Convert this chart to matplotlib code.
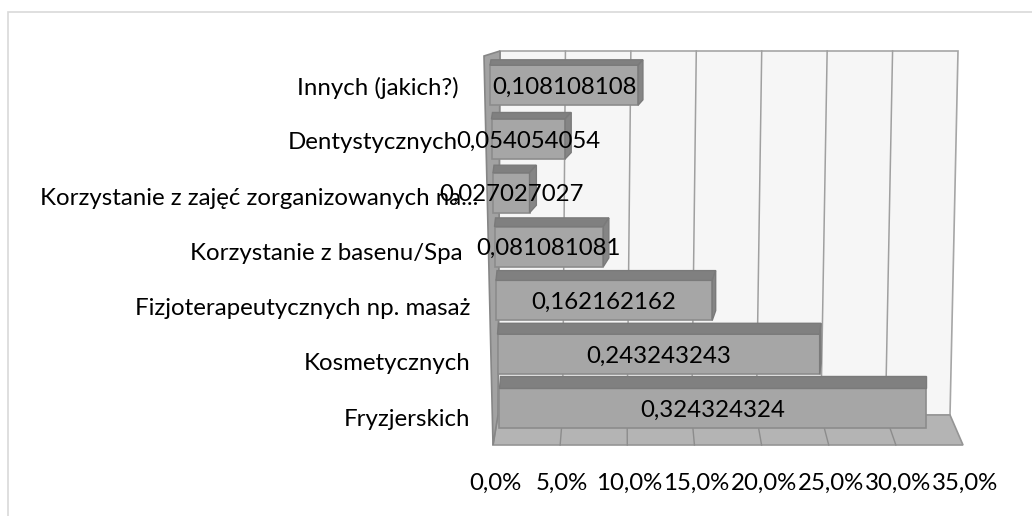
import matplotlib

matplotlib.use("Agg")

import matplotlib.pyplot as plt
from matplotlib.patches import Polygon, Rectangle

# data (bottom row first)
categories = [
    "Fryzjerskich",
    "Kosmetycznych",
    "Fizjoterapeutycznych np. masaż",
    "Korzystanie z basenu/Spa",
    "Korzystanie z zajęć zorganizowanych na...",
    "Dentystycznych",
    "Innych (jakich?)",
]
values = [0.324324324, 0.243243243, 0.162162162, 0.081081081,
          0.027027027, 0.054054054, 0.108108108]
value_labels = ["0,324324324", "0,243243243", "0,162162162", "0,081081081",
                "0,027027027", "0,054054054", "0,108108108"]
ticks = [0.0, 0.05, 0.10, 0.15, 0.20, 0.25, 0.30, 0.35]
tick_labels = ["0,0%", "5,0%", "10,0%", "15,0%", "20,0%", "25,0%", "30,0%", "35,0%"]

plt.rcParams["font.family"] = ["Lato", "DejaVu Sans"]
FS = 17.3
TXT = "#000000"

# pixel -> data unit sizes (x: value, y: category row)
PX = 1 / 1308.6
PY = 1 / 53.8

fig = plt.figure(figsize=(10.32, 5.16), dpi=100)
ax = fig.add_axes([0, 0, 1, 1])
ax.set_xlim(-500 * PX, 532 * PX)
ax.set_ylim(-108 * PY, 408 * PY)
ax.axis("off")

# chart area border
fig.patches.append(Rectangle((8 / 1032, -0.1), 1.2, 1.1 - 12 / 516, transform=fig.transFigure,
                             fill=False, edgecolor="#d9d9d9", linewidth=1.2))

xmax = ticks[-1]
y_top = 357 * PY      # top of back wall
y_back = -7 * PY      # floor / back wall join
y_front = -37 * PY    # front edge of floor


def back_x(t, y):
    # back wall is slightly narrower at the bottom
    f = (y_top - y) / (y_top - y_back)
    return t * (1 - f * 6 * PX / xmax) - f * 2 * PX


def front_x(t):
    return -7 * PX + t * 470 * PX / xmax


# back wall
ax.add_patch(Polygon([(back_x(0, y_top), y_top), (back_x(xmax, y_top), y_top),
                      (back_x(xmax, y_back), y_back), (back_x(0, y_back), y_back)],
                     closed=True, facecolor="#f6f6f6", edgecolor="#a6a6a6", linewidth=1.2, zorder=1))
for t in ticks[1:-1]:
    ax.plot([back_x(t, y_top), back_x(t, y_back)], [y_top, y_back], color="#a0a0a0", lw=1.1, zorder=2)

# floor
ax.add_patch(Polygon([(back_x(0, y_back), y_back), (back_x(xmax, y_back), y_back),
                      (front_x(xmax), y_front), (front_x(0), y_front)],
                     closed=True, facecolor="#b4b4b4", edgecolor="#959595", linewidth=1.2, zorder=2))
for t in ticks[1:-1]:
    ax.plot([back_x(t, y_back), front_x(t)], [y_back, y_front], color="#8c8c8c", lw=1, zorder=2)

# left wall
ax.add_patch(Polygon([(-16 * PX, y_top - 5 * PY), (back_x(0, y_top), y_top),
                      (back_x(0, y_back), y_back), (front_x(0), y_front)],
                     closed=True, facecolor="#a2a2a2", edgecolor="#868686", linewidth=1.2, zorder=2))

# bars, drawn top row first so lower rows sit in front
half = 20 * PY
for i in range(len(values) - 1, -1, -1):
    v = values[i]
    x0 = (-1 - 1.5 * i) * PX
    x1 = x0 + v * (1.005 + 0.007 * i)
    d = (12 - 1.1 * i) * PY
    r = max(0.0, 5 * (0.3 - v) / 0.2) * PX
    yc = i
    ax.add_patch(Polygon([(x0, yc - half), (x1, yc - half), (x1, yc + half), (x0, yc + half)],
                         closed=True, facecolor="#a6a6a6", edgecolor="#8c8c8c", lw=1.2, zorder=4))
    ax.add_patch(Polygon([(x0, yc + half), (x1, yc + half), (x1 + r, yc + half + d),
                          (x0 + 1 * PX, yc + half + d)],
                         closed=True, facecolor="#808080", edgecolor="#7a7a7a", lw=1, zorder=4))
    if r > 0:
        ax.add_patch(Polygon([(x1, yc - half), (x1 + r, yc - half + d), (x1 + r, yc + half + d),
                              (x1, yc + half)],
                             closed=True, facecolor="#858585", edgecolor="#7a7a7a", lw=1, zorder=4))
    ax.text((x0 + x1) / 2, yc - 2 * PY, value_labels[i], ha="center", va="center",
            fontsize=FS, color=TXT, zorder=10)

# category labels (right edge offsets in px from the axis)
label_gap = [30, 30, 30, 37, 22, 42, 41]
for i, cat in enumerate(categories):
    ax.text(-label_gap[i] * PX, (408 - 419 + 55.2 * i) * PY, cat,
            ha="right", va="center", fontsize=FS, color=TXT, zorder=9)

# value axis labels
for t, lab in zip(ticks, tick_labels):
    ax.text(front_x(t) + 2 * PX, -75 * PY, lab, ha="center", va="center",
            fontsize=FS, color=TXT)

fig.savefig("out.png", dpi=100)
plt.close(fig)
